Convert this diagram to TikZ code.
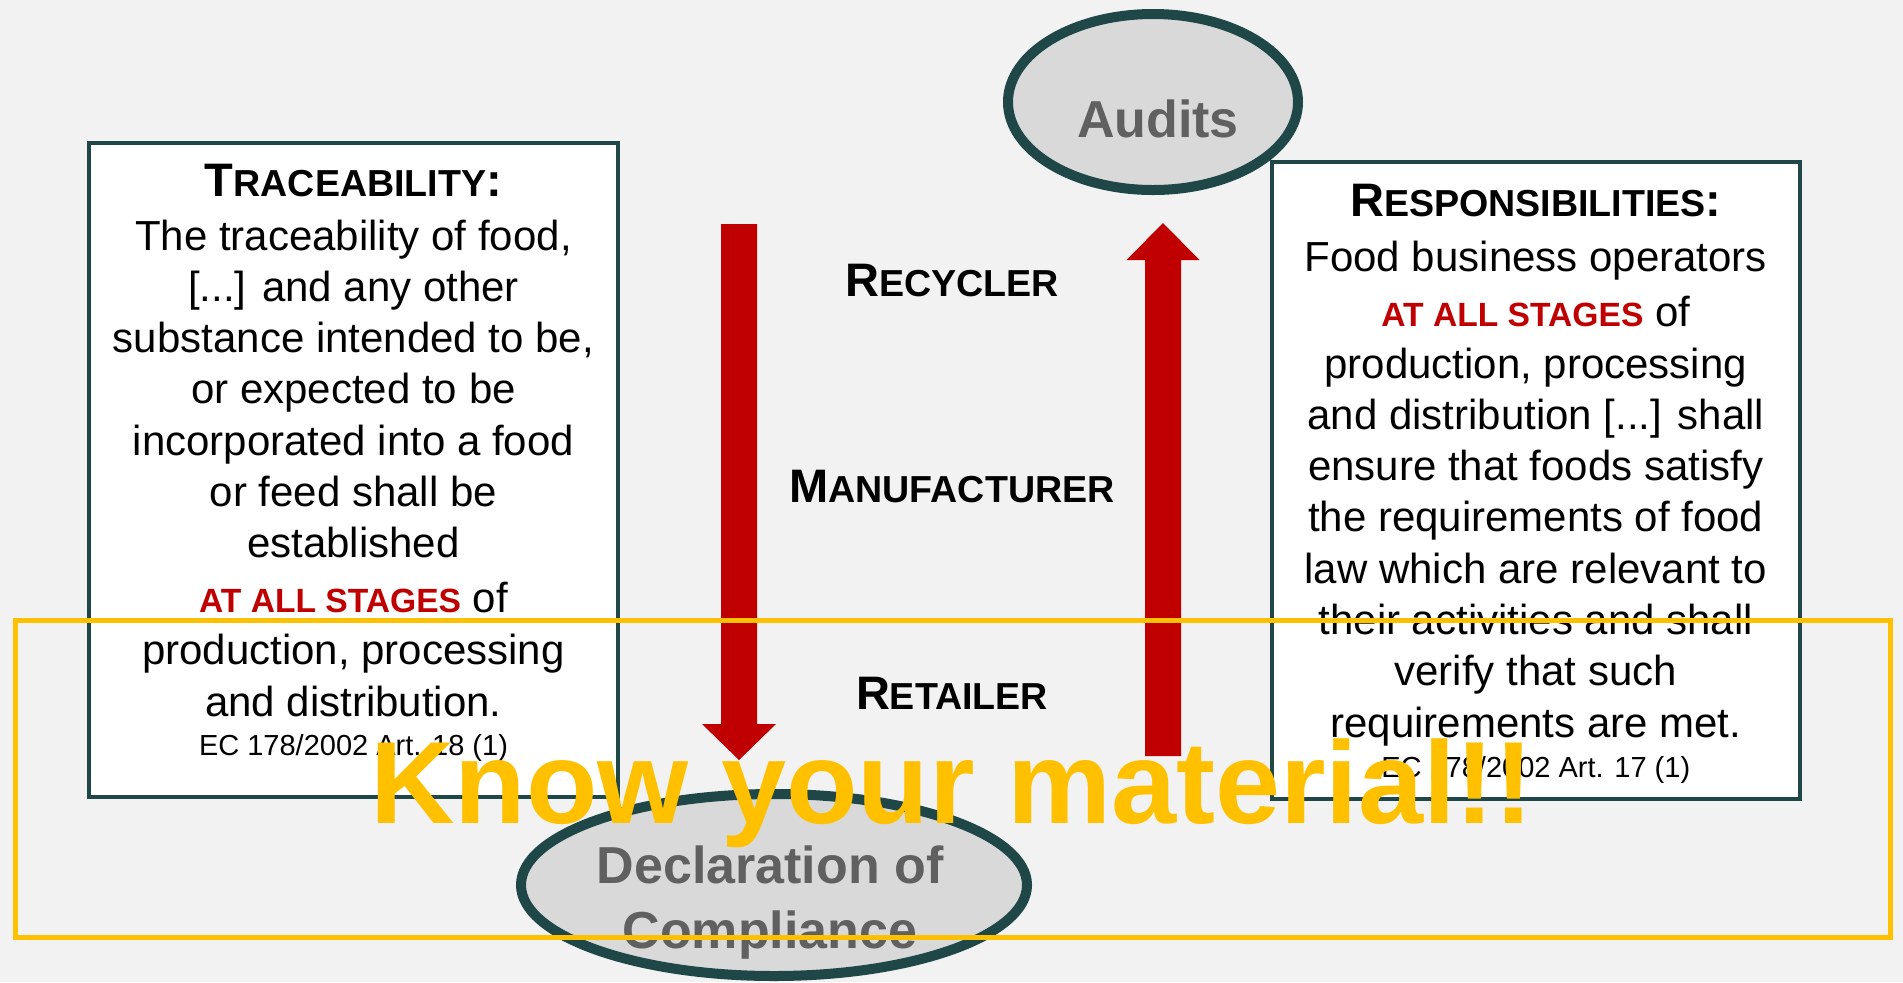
\documentclass[tikz,border=0pt]{standalone}
\usepackage{fontspec}
\setmainfont{Liberation Sans}
\usetikzlibrary{shapes.geometric}
\definecolor{bgc}{HTML}{F2F2F2}
\definecolor{boxteal}{HTML}{1F4748}
\definecolor{ellfill}{HTML}{D9D9D9}
\definecolor{greytxt}{HTML}{606060}
\definecolor{redc}{HTML}{C00000}
\definecolor{yel}{HTML}{FFC000}
\newcommand\smcap[2]{#1{\fontsize{18.8pt}{20pt}\selectfont #2}}
\newcommand\stages{{\color{redc}\bfseries\fontsize{16.8pt}{18pt}\selectfont AT ALL STAGES}}
\begin{document}
\begin{tikzpicture}[x=0.5pt,y=-0.5pt,
  infobox/.style={draw=boxteal, line width=2pt, fill=white, inner sep=0pt},
  oval/.style={ellipse, draw=boxteal, line width=5pt, fill=ellfill, inner sep=0pt},
  ovaltext/.style={text=greytxt, font=\bfseries\fontsize{26pt}{32.5pt}\selectfont, inner sep=0pt},
  bodytext/.style={align=center, inner sep=0pt, anchor=north, font=\fontsize{21pt}{25.65pt}\selectfont},
  stagelab/.style={inner sep=0pt, anchor=base, font=\bfseries\fontsize{23.5pt}{26pt}\selectfont},
  blockarrow/.style={fill=redc}
]
\fill[bgc] (0,0) rectangle (1903,982);
\useasboundingbox (0,0) rectangle (1903,982);

% boxes
\node[infobox, minimum width=264.5pt, minimum height=326.75pt] (lbox) at (353.5,469.75) {};
\node[infobox, minimum width=264.25pt, minimum height=318.5pt] (rbox) at (1535.75,480.5) {};

\node[bodytext] (ltext) at (353.5,163.3) {%
{\bfseries\fontsize{23.5pt}{27pt}\selectfont \smcap{T}{RACEABILITY}:}\\[1.35pt]
The traceability of food,\\{}[...] and any other\\
substance intended to be,\\
or expected to be\\
incorporated into a food\\
or feed shall be\\
established\\[1.85pt]
\stages{} of\\[0.35pt]
production, processing\\[0.35pt]
and distribution.\\[-6.15pt]
{\fontsize{14.5pt}{16pt}\selectfont EC 178/2002 Art. 18 (1)}};

\node[bodytext] (rtext) at (1535.75,183.3) {%
{\bfseries\fontsize{23.5pt}{27pt}\selectfont \smcap{R}{ESPONSIBILITIES}:}\\[1.85pt]
Food business operators\\[1.85pt]
\stages{} of\\[0.35pt]
production, processing\\
and distribution [...] shall\\
ensure that foods satisfy\\
the requirements of food\\
law which are relevant to\\
their activities and shall\\
verify that such\\
requirements are met.\\[-5.65pt]
{\fontsize{14.5pt}{16pt}\selectfont EC 178/2002 Art. 17 (1)}};

% ellipses
\node[oval, minimum width=145pt, minimum height=88pt] (audits) at (1153,102) {};
\node[ovaltext, anchor=base] (auditstxt) at (1158,137) {Audits};
\node[oval, minimum width=253pt, minimum height=91pt] (doc) at (774,885) {};
\node[ovaltext, anchor=north, align=center] (doctxt) at (770,845) {Declaration of\\Compliance};

% block arrows
\fill[blockarrow] (721,224) -- (757,224) -- (757,724) -- (776,724) -- (739,760) -- (702,724) -- (721,724) -- cycle;
\fill[blockarrow] (1163,223) -- (1199.5,260) -- (1181,260) -- (1181,756) -- (1145,756) -- (1145,260) -- (1126.5,260) -- cycle;

% stage labels
\node[stagelab] (recycler) at (952,296) {\smcap{R}{ECYCLER}};
\node[stagelab] (manuf) at (952,502.5) {\smcap{M}{ANUFACTURER}};
\node[stagelab] (retailer) at (952,709) {\smcap{R}{ETAILER}};

% overlay
\node[inner sep=0pt, anchor=base, text=yel, font=\bfseries\fontsize{58.5pt}{64pt}\selectfont] (kym) at (952,823) {Know your material!!};
\draw[yel, line width=2.5pt] (15,620) rectangle (1890,937);
\end{tikzpicture}
\end{document}
